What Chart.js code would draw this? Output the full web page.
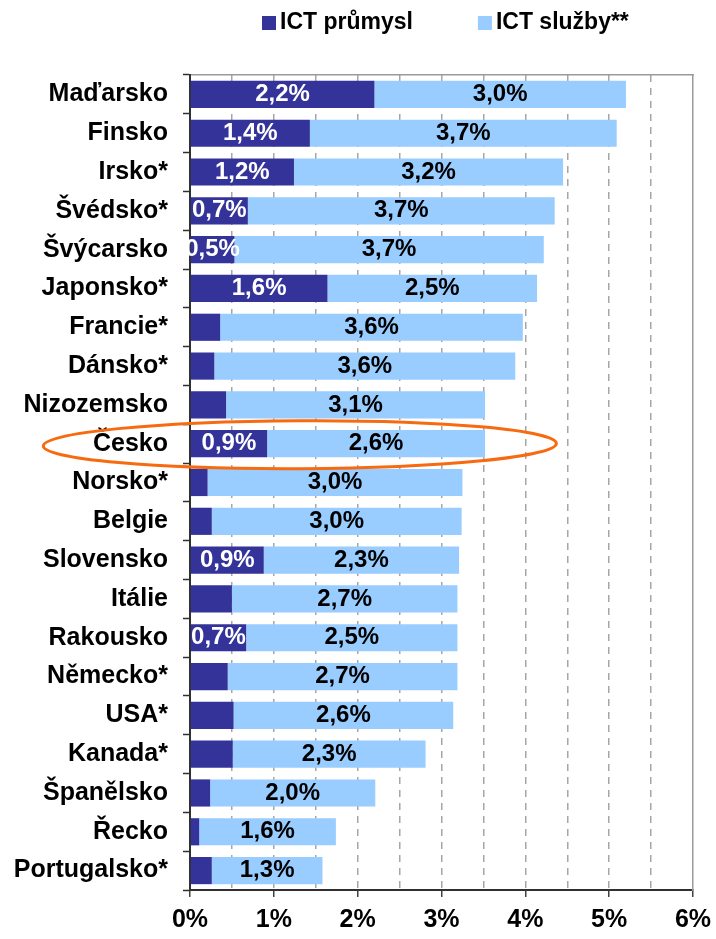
<!DOCTYPE html>
<html>
<head>
<meta charset="utf-8">
<script src="https://cdn.jsdelivr.net/npm/chart.js@4.4.1/dist/chart.umd.min.js"></script>
<style>
  html, body { margin: 0; padding: 0; background: #ffffff; }
  #wrap { width: 716px; height: 939px; }
</style>
</head>
<body>
<div id="wrap"><canvas id="c" width="716" height="939"></canvas></div>
<script>
// ---- data ----
const categories = ['Maďarsko', 'Finsko', 'Irsko*', 'Švédsko*', 'Švýcarsko', 'Japonsko*', 'Francie*', 'Dánsko*',
  'Nizozemsko', 'Česko', 'Norsko*', 'Belgie', 'Slovensko', 'Itálie', 'Rakousko', 'Německo*', 'USA*', 'Kanada*',
  'Španělsko', 'Řecko', 'Portugalsko*'];
const ictIndustry = [2.20, 1.43, 1.24, 0.69, 0.53, 1.64, 0.36, 0.29, 0.43, 0.92, 0.21, 0.26, 0.88, 0.50, 0.67, 0.45,
  0.52, 0.51, 0.24, 0.11, 0.26];
const ictServices = [3.00, 3.66, 3.21, 3.66, 3.69, 2.50, 3.61, 3.59, 3.09, 2.60, 3.04, 2.98, 2.33, 2.69, 2.52, 2.74,
  2.62, 2.30, 1.97, 1.63, 1.32];
const seriesNames = ['ICT průmysl', 'ICT služby**'];
const industryLabelled = ['Maďarsko', 'Finsko', 'Irsko*', 'Švédsko*', 'Švýcarsko', 'Japonsko*', 'Česko', 'Slovensko', 'Rakousko'];
const xTickValues = [0, 1, 2, 3, 4, 5, 6];
const highlighted = 'Česko';

// ---- styling ----
const FONT = '"Liberation Sans", Arial, Helvetica, sans-serif';
const DARK = '#333399';
const LIGHT = '#99CCFF';
const fmt = v => v.toFixed(1).replace('.', ',') + '%';

const valueLabels = {
  id: 'valueLabels',
  afterDatasetsDraw(chart) {
    const ctx = chart.ctx;
    ctx.save();
    ctx.font = 'bold 24px ' + FONT;
    ctx.textAlign = 'center';
    ctx.textBaseline = 'middle';
    chart.data.datasets.forEach((ds, di) => {
      const meta = chart.getDatasetMeta(di);
      meta.data.forEach((bar, i) => {
        if (di === 0 && !industryLabelled.includes(categories[i])) return;
        const cx = (bar.x + bar.base) / 2;
        ctx.fillStyle = di === 0 ? '#ffffff' : '#000000';
        ctx.fillText(fmt(ds.data[i]), cx, bar.y);
      });
    });
    ctx.restore();
  }
};

const customLegend = {
  id: 'customLegend',
  afterDraw(chart) {
    const ctx = chart.ctx;
    ctx.save();
    ctx.font = 'bold 23px ' + FONT;
    ctx.textBaseline = 'middle';
    ctx.textAlign = 'left';
    let x = 262;
    const y = 23;
    chart.data.datasets.forEach(ds => {
      ctx.fillStyle = ds.backgroundColor;
      ctx.fillRect(x, y - 7, 14, 14);
      x += 18;
      ctx.fillStyle = '#000000';
      ctx.fillText(ds.label, x, y);
      x += ctx.measureText(ds.label).width + 65;
    });
    ctx.restore();
  }
};

const highlightEllipse = {
  id: 'highlightEllipse',
  afterDraw(chart) {
    const xs = chart.scales.x, ys = chart.scales.y;
    const idx = categories.indexOf(highlighted);
    const cy = ys.getPixelForValue(idx) + 1;
    const left = xs.getPixelForValue(-1.75);
    const right = xs.getPixelForValue(4.37);
    const ctx = chart.ctx;
    ctx.save();
    ctx.strokeStyle = '#F86A10';
    ctx.lineWidth = 3;
    ctx.beginPath();
    ctx.ellipse((left + right) / 2, cy, (right - left) / 2, 24, -0.005, 0, Math.PI * 2);
    ctx.stroke();
    ctx.restore();
  }
};

new Chart(document.getElementById('c'), {
  type: 'bar',
  data: {
    labels: categories,
    datasets: [
      { label: seriesNames[0], data: ictIndustry, backgroundColor: DARK, borderWidth: 0,
        barPercentage: 0.7, categoryPercentage: 1 },
      { label: seriesNames[1], data: ictServices, backgroundColor: LIGHT, borderWidth: 0,
        barPercentage: 0.7, categoryPercentage: 1 }
    ]
  },
  options: {
    indexAxis: 'y',
    responsive: false,
    animation: false,
    devicePixelRatio: 1,
    layout: { padding: { top: 75, right: 23, left: 0, bottom: 0 } },
    plugins: { legend: { display: false }, tooltip: { enabled: false } },
    scales: {
      x: {
        type: 'linear', stacked: true, position: 'bottom', min: 0, max: 6,
        afterBuildTicks: s => {
          const t = [];
          for (let i = 0; i < xTickValues.length; i++) {
            t.push({ value: xTickValues[i] });
            if (i < xTickValues.length - 1) t.push({ value: (xTickValues[i] + xTickValues[i + 1]) / 2 });
          }
          s.ticks = t;
        },
        afterFit: s => { s.height = 49; s.paddingRight = 0; s.paddingLeft = 0; },
        ticks: {
          autoSkip: false, maxRotation: 0, padding: 8, color: '#000000',
          font: { family: FONT, size: 25, weight: 'bold' },
          callback: v => (Number.isInteger(v) ? v + '%' : '')
        },
        grid: {
          drawOnChartArea: true, drawTicks: true, tickLength: 7, lineWidth: 1.5,
          color: c => (c.tick && (c.tick.value === 0 || c.tick.value === 6)) ? 'rgba(0,0,0,0)' : '#a6a6a6',
          tickColor: c => (c.tick && Number.isInteger(c.tick.value)) ? '#404040' : 'rgba(0,0,0,0)',
          tickWidth: 1.5
        },
        border: { display: true, color: '#303030', width: 2, dash: [7, 6] }
      },
      xTop: {
        type: 'linear', position: 'top', min: 0, max: 6,
        afterFit: s => { s.height = 0; s.paddingRight = 0; s.paddingLeft = 0; },
        ticks: { display: false },
        grid: { drawOnChartArea: false, drawTicks: false },
        border: { display: true, color: '#9a9a9a', width: 1.5 }
      },
      y: {
        type: 'category', stacked: true, position: 'left',
        afterFit: s => { s.width = 190; },
        ticks: { padding: 15, color: '#000000', font: { family: FONT, size: 25, weight: 'bold' } },
        grid: { drawOnChartArea: false, drawTicks: true, tickLength: 7, tickColor: '#303030', tickWidth: 1.5, offset: true },
        border: { display: true, color: '#303030', width: 2 }
      },
      yR: {
        type: 'category', position: 'right',
        afterFit: s => { s.width = 0; },
        ticks: { display: false },
        grid: { drawOnChartArea: false, drawTicks: false },
        border: { display: true, color: '#9a9a9a', width: 1.5 }
      }
    }
  },
  plugins: [valueLabels, highlightEllipse, customLegend]
});
</script>
</body>
</html>
